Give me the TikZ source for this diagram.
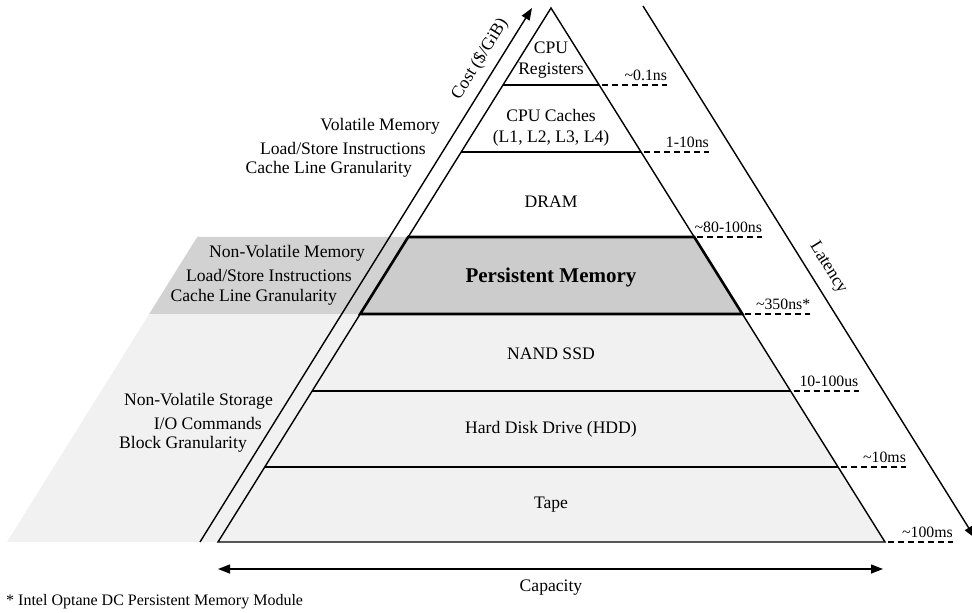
\documentclass[tikz,border=0pt]{standalone}
\usepackage{fontspec}
\setmainfont{Liberation Serif}
\usetikzlibrary{arrows.meta,calc}
\definecolor{pmgray}{HTML}{CCCCCC}
\definecolor{bandgray}{HTML}{D2D2D2}
\definecolor{lightgray}{HTML}{F1F1F1}
\begin{document}
\begin{tikzpicture}[x=1pt,y=-1pt,
  edge/.style={line width=1.4pt},
  txt/.style={font=\fontsize{17.6}{21}\selectfont, inner sep=0pt},
  lvl/.style={txt, align=center},
  side/.style={txt, anchor=east},
  lat/.style={font=\fontsize{15.8}{19}\selectfont, anchor=south east, inner sep=0pt},
  tick/.style={line width=1.2pt, dash pattern=on 6pt off 4pt},
  tip/.style={-{Triangle[length=12pt,width=9pt]}},
  both/.style={{Triangle[length=12pt,width=9pt]}-{Triangle[length=12pt,width=9pt]}}
]
\useasboundingbox (0,0) rectangle (972,613);

% pyramid corners
\coordinate (apex) at (551,8);
\coordinate (bl) at (218,542);
\coordinate (br) at (885,542);

% level boundaries on both sides of the pyramid
\foreach \n/\y in {reg/85, cac/152, dram/237, pm/314, nand/391, hdd/467} {
  \coordinate (L\n) at ($(apex)!{(\y-8)/534}!(bl)$);
  \coordinate (R\n) at ($(apex)!{(\y-8)/534}!(br)$);
}

% class bands on the left
\fill[bandgray] ($(Ldram)+(-211,0)$) -- (Ldram) -- (Lpm) -- ($(Lpm)+(-211,0)$) -- cycle;
\fill[lightgray] ($(Lpm)+(-211,0)$) -- (Lpm) -- (bl) -- ($(bl)+(-211,0)$) -- cycle;

% level fills
\fill[lightgray] (Lpm) -- (Rpm) -- (br) -- (bl) -- cycle;
\fill[pmgray] (Ldram) -- (Rdram) -- (Rpm) -- (Lpm) -- cycle;

% level separators and outline
\foreach \n in {reg, cac, nand, hdd} {
  \draw[edge] (L\n) -- (R\n);
}
\draw[edge, line join=miter] (bl) -- (apex) -- (br) -- cycle;
\draw[line width=2.6pt] (Ldram) -- (Rdram) -- (Rpm) -- (Lpm) -- cycle;

% latency ticks
\foreach \n/\t in {reg/{\textasciitilde0.1ns}, cac/{1-10ns}, dram/{\textasciitilde80-100ns}, pm/{\textasciitilde350ns*}, nand/{10-100us}, hdd/{\textasciitilde10ms}} {
  \draw[tick] ($(R\n)+(3,0)$) coordinate (S\n) -- ++(65,0) coordinate (T\n);
  \node[lat] (lab\n) at ($(T\n)+(0,-4)$) {\t};
}
\draw[tick] ($(br)+(3,0)$) coordinate (Sbase) -- ++(65,0) coordinate (Tbase);
\node[lat] (labbase) at ($(Tbase)+(0,-4)$) {\textasciitilde100ms};

% level names
\node[lvl] (regs) at (551,60) {CPU\\Registers};
\node[lvl] (caches) at (551,128) {CPU Caches\\(L1, L2, L3, L4)};
\node[lvl] (dram) at (551,202) {DRAM};
\node[font=\fontsize{21}{25}\selectfont\bfseries, inner sep=0pt] (pmem) at (551,277) {Persistent Memory};
\node[lvl] (nandssd) at (551,354) {NAND SSD};
\node[lvl] (hdd) at (551,429) {Hard Disk Drive (HDD)};
\node[lvl] (tape) at (551,505) {Tape};

% class descriptions
\node[side] (v1) at (440,126) {Volatile Memory};
\node[side] (v2) at (426,148) {Load/Store Instructions};
\node[side] (v3) at (412,169) {Cache Line Granularity};
\node[side] (m1) at (365,253) {Non-Volatile Memory};
\node[side] (m2) at (352,275) {Load/Store Instructions};
\node[side] (m3) at (337,297) {Cache Line Granularity};
\node[side] (s1) at (273,401) {Non-Volatile Storage};
\node[side] (s2) at (262,423) {I/O Commands};
\node[side] (s3) at (247,444) {Block Granularity};

% axes
\coordinate (cost0) at (200,542);
\coordinate (cost1) at (532,8);
\draw[edge, tip] (cost0) -- (cost1);
\node[txt, rotate=58.13] (costlab) at (480,59) {Cost (\$/GiB)};

\coordinate (lat0) at (643,6);
\coordinate (lat1) at (975,538);
\draw[edge, tip] (lat0) -- (lat1);
\node[txt, rotate=-58.13] (latlab) at (828,268) {Latency};

\coordinate (cap0) at (218,569);
\coordinate (cap1) at (883,569);
\draw[edge, both] (cap0) -- (cap1);
\node[txt] (caplab) at (551,588) {Capacity};

% footnote
\node[font=\fontsize{16}{19}\selectfont, inner sep=0pt, anchor=west] (note) at (6,602) {* Intel Optane DC Persistent Memory Module};
\end{tikzpicture}
\end{document}
